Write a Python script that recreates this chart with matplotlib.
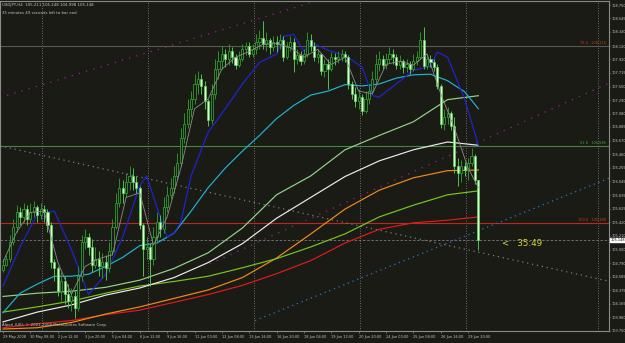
import matplotlib
matplotlib.use("Agg")
import matplotlib.pyplot as plt
from matplotlib import font_manager

# ---- USDJPY H4 bars ----
first_open = 104.69
closes = [104.77, 104.86, 105.12, 105.34, 105.57, 105.50, 105.62, 105.47, 105.57, 105.65,
          105.53, 105.62, 105.57, 105.37, 104.81, 104.71, 104.36, 104.51, 104.31, 104.21,
          104.28, 104.10, 104.59, 105.12, 105.19, 105.04, 104.77, 104.86, 104.74, 104.81,
          104.71, 104.97, 105.34, 105.72, 105.95, 105.87, 106.03, 106.13, 106.03, 105.95,
          105.37, 105.01, 105.04, 104.86, 105.19, 105.42, 105.31, 105.65, 105.83, 105.95,
          106.13, 106.33, 106.71, 106.93, 107.16, 107.31, 107.54, 107.62, 107.51, 107.28,
          106.98, 107.39, 107.77, 107.89, 108.00, 107.92, 108.04, 107.95, 107.83, 107.92,
          108.07, 108.12, 108.00, 108.07, 108.19, 108.25, 108.15, 108.22, 108.10, 108.19,
          108.15, 108.22, 107.96, 108.10, 108.19, 107.92, 107.98, 107.89, 108.00, 108.22,
          108.12, 107.95, 108.00, 107.74, 107.84, 107.77, 107.95, 107.92, 107.96, 108.00,
          107.95, 107.54, 107.39, 107.28, 107.34, 107.13, 107.31, 107.43, 107.62, 107.84,
          107.92, 107.83, 107.92, 108.00, 107.95, 107.83, 107.89, 107.80, 107.84, 107.77,
          107.89, 107.95, 108.22, 107.81, 107.92, 107.87, 107.80, 107.51, 106.93, 107.04,
          107.09, 106.89, 106.28, 106.18, 106.28, 106.22, 106.33, 106.43, 106.06, 105.15]
highs = [104.86, 104.92, 105.22, 105.47, 105.68, 105.65, 105.72, 105.68, 105.71, 105.75,
         105.69, 105.72, 105.68, 105.62, 105.42, 104.86, 104.74, 104.66, 104.59, 104.47,
         104.41, 104.36, 104.74, 105.22, 105.31, 105.25, 105.16, 105.04, 104.97, 104.95,
         104.92, 105.12, 105.47, 105.87, 106.10, 106.07, 106.18, 106.28, 106.25, 106.13,
         105.98, 105.41, 105.19, 105.10, 105.34, 105.57, 105.53, 105.80, 105.98, 106.10,
         106.28, 106.48, 106.86, 107.09, 107.31, 107.43, 107.69, 107.74, 107.69, 107.59,
         107.31, 107.54, 107.92, 108.04, 108.12, 108.07, 108.15, 108.10, 108.00, 108.04,
         108.16, 108.19, 108.18, 108.16, 108.30, 108.37, 108.50, 108.34, 108.25, 108.28,
         108.27, 108.31, 108.28, 108.19, 108.28, 108.25, 108.07, 108.04, 108.07, 108.34,
         108.30, 108.18, 108.07, 108.00, 107.92, 107.92, 108.03, 108.01, 108.04, 108.07,
         108.04, 107.98, 107.59, 107.50, 107.46, 107.39, 107.43, 107.54, 107.74, 108.00,
         108.04, 107.98, 108.01, 108.10, 108.07, 108.00, 107.98, 107.92, 107.92, 107.89,
         108.00, 108.04, 108.34, 108.42, 108.00, 107.98, 107.92, 107.84, 107.54, 107.16,
         107.19, 107.13, 107.04, 106.40, 106.37, 106.34, 106.40, 106.56, 106.47, 106.06]
lows = [104.66, 104.74, 104.81, 105.07, 105.27, 105.37, 105.42, 105.37, 105.41, 105.50,
        105.42, 105.47, 105.42, 105.27, 104.71, 104.51, 104.28, 104.21, 104.16, 104.10,
        104.06, 103.95, 104.06, 104.51, 105.01, 104.92, 104.66, 104.71, 104.59, 104.56,
        104.54, 104.65, 104.92, 105.31, 105.65, 105.72, 105.80, 105.92, 105.92, 105.86,
        105.31, 104.59, 104.86, 104.44, 104.77, 105.12, 105.19, 105.25, 105.57, 105.77,
        105.87, 106.07, 106.28, 106.63, 106.86, 107.04, 107.24, 107.39, 107.39, 107.16,
        106.89, 106.93, 107.31, 107.62, 107.77, 107.80, 107.83, 107.86, 107.77, 107.80,
        107.89, 107.98, 107.95, 107.95, 108.00, 108.07, 108.07, 108.04, 108.00, 108.04,
        108.03, 108.07, 107.89, 107.92, 108.04, 107.72, 107.84, 107.83, 107.84, 107.95,
        108.04, 107.89, 107.86, 107.68, 107.65, 107.46, 107.74, 107.83, 107.86, 107.89,
        107.87, 107.46, 107.31, 107.19, 107.16, 107.07, 107.10, 107.24, 107.39, 107.56,
        107.74, 107.77, 107.77, 107.86, 107.84, 107.77, 107.77, 107.71, 107.72, 107.69,
        107.74, 107.83, 107.92, 107.77, 107.77, 107.80, 107.74, 107.46, 106.86, 106.83,
        106.93, 106.83, 106.18, 105.98, 106.03, 106.13, 106.07, 106.28, 106.01, 105.00]

# ---- indicator lines (bar index -> price) ----
slow_idx = [0, 10, 20, 30, 40, 50, 60, 70, 80, 90, 100, 110, 120, 130, 139]
ma_palegreen = [104.28, 104.33, 104.36, 104.42, 104.53, 104.71, 104.95, 105.33, 105.84, 106.13,
                106.53, 106.75, 106.96, 107.30, 107.36]
ma_white = [103.89, 104.04, 104.15, 104.30, 104.41, 104.57, 104.80, 105.09, 105.48, 105.80,
            106.12, 106.36, 106.53, 106.65, 106.60]
ma_lime = [104.04, 104.12, 104.21, 104.33, 104.44, 104.51, 104.59, 104.72, 104.86, 105.04,
           105.24, 105.50, 105.68, 105.84, 105.90]
ma_orange = [103.78, 103.80, 103.88, 104.01, 104.12, 104.25, 104.38, 104.57, 104.87, 105.24,
             105.62, 105.91, 106.10, 106.21, 106.22]
ma_red = [103.80, 103.86, 103.91, 104.00, 104.07, 104.19, 104.31, 104.45, 104.63, 104.83,
          105.10, 105.31, 105.41, 105.45, 105.50]

cyan_idx = [0, 5, 10, 15, 20, 25, 30, 35, 40, 45, 50, 55, 60, 65, 70, 75, 80, 85, 90, 95,
            100, 105, 110, 115, 120, 125, 130, 135, 139]
ma_cyan = [104.03, 104.33, 104.47, 104.59, 104.59, 104.62, 104.74, 104.88, 105.06, 105.10,
           105.25, 105.59, 105.95, 106.25, 106.51, 106.75, 107.01, 107.21, 107.37, 107.43,
           107.53, 107.51, 107.54, 107.63, 107.68, 107.69, 107.59, 107.42, 107.16]

blue_idx = [0, 5, 10, 15, 20, 25, 30, 35, 40, 42, 45, 48, 50, 52, 55, 60, 65, 70, 75, 80,
            82, 85, 88, 90, 95, 100, 105, 108, 110, 115, 120, 125, 127, 130, 135, 139]
ma_blue = [104.44, 105.04, 105.54, 105.59, 105.00, 104.31, 104.62, 105.19, 105.98, 106.13,
           105.65, 105.19, 105.25, 105.42, 106.13, 106.80, 107.16, 107.54, 107.87, 108.00,
           108.27, 108.30, 108.04, 108.18, 108.06, 107.98, 107.80, 107.36, 107.34, 107.54,
           107.75, 107.81, 108.03, 107.95, 107.31, 106.60]

grey_idx = list(range(0, 137, 4)) + [139]
ma_grey = [104.81, 105.27, 105.57, 105.59, 104.81, 104.31, 104.74, 104.86, 104.92, 105.80,
           105.87, 105.07, 105.50, 106.25, 107.16, 107.31, 107.77, 107.95, 108.04, 108.15,
           108.16, 108.10, 107.95, 108.07, 107.84, 107.95, 107.43, 107.39, 107.84, 107.89,
           107.83, 108.00, 107.39, 106.86, 106.25, 105.95]

# trend lines: (bar, price) end points
trend_purple_hi = ([-0.9, 92.7], [107.33, 108.83])
trend_purple_lo = ([60.5, 177.5], [104.78, 107.56])
trend_grey = ([-0.9, 177.5], [106.59, 104.51])
trend_blue = ([73.7, 177.5], [103.91, 106.10])

fibo_levels = [108.116, 106.586, 105.405]
fibo_texts = ["76.4   108.116", "61.8   106.586", "100.0   105.405"]
fibo_colors = ["#5a5a50", "#3d8a3d", "#b82a1e"]
fibo_text_colors = ["#c0401e", "#3fa03f", "#c0401e"]
bid = 105.148

week_sep = [11.5, 42.5, 73.5, 104.5, 135.5]
time_ticks = [0, 8, 16, 24, 32, 40, 48, 56, 64, 72, 80, 88, 96, 104, 112, 120, 128, 136]
time_labels = ["29 May 2008", "30 May 08:00", "2 Jun 12:00", "3 Jun 20:00", "5 Jun 04:00",
               "6 Jun 12:00", "9 Jun 16:00", "11 Jun 00:00", "12 Jun 08:00", "13 Jun 16:00",
               "16 Jun 20:00", "18 Jun 04:00", "19 Jun 12:00", "20 Jun 20:00", "24 Jun 00:00",
               "25 Jun 08:00", "26 Jun 16:00", "29 Jun 20:00"]
price_ticks = [108.750, 108.545, 108.340, 108.120, 107.920, 107.715, 107.500, 107.290,
               107.080, 106.885, 106.670, 106.460, 106.255, 106.045, 105.835, 105.625,
               105.420, 105.210, 105.000, 104.790, 104.585, 104.375, 104.165, 103.960,
               103.750]

BG = "#1b1b16"
TXT = "#c4c4c4"
AXC = "#8a8a8a"

# narrow face so the tiny terminal labels fit like the original
installed = {f.name for f in font_manager.fontManager.ttflist}
if "Liberation Sans Narrow" in installed:
    FAM, FS = "Liberation Sans Narrow", 3.0
else:
    FAM, FS = "DejaVu Sans", 2.5

fig = plt.figure(figsize=(6.25, 3.43), dpi=100, facecolor=BG)
ax = fig.add_axes([0.0, 12 / 343, 609 / 625, 330 / 343], facecolor=BG)
ax.set_xlim(-0.88, 177.2)
ax.set_ylim(103.815, 108.813)

# separators, levels
for s in week_sep:
    ax.axvline(s, color="#8a8a8a", lw=0.6, ls=(0, (1, 2)), zorder=1)
ax.axvline(174.0, color="#8a8a8a", lw=0.6, ls=(0, (1, 2)), zorder=1)
for lvl, col in zip(fibo_levels, fibo_colors):
    ax.axhline(lvl, color=col, lw=0.8, zorder=1)
for lvl, t, col in zip(fibo_levels, fibo_texts, fibo_text_colors):
    ax.text(176.3, lvl + 0.02, t, color=col, ha="right", va="bottom", zorder=5,
            fontfamily=FAM, fontsize=FS)
ax.axhline(bid, color="#7a7a80", lw=0.6, ls=(0, (3, 2)), zorder=1)

# dotted trend lines
ax.plot(*trend_purple_hi, color="#a01ea0", lw=0.9, ls=(0, (1, 5)), zorder=2)
ax.plot(*trend_purple_lo, color="#a01ea0", lw=0.9, ls=(0, (1, 5)), zorder=2)
ax.plot(*trend_grey, color="#7a7a7a", lw=0.9, ls=(0, (1, 3)), zorder=2)
ax.plot(*trend_blue, color="#2a78c8", lw=0.9, ls=(0, (1, 3)), zorder=2)

# moving averages
ax.plot(slow_idx, ma_red, color="#e01c1c", lw=0.85, zorder=3)
ax.plot(slow_idx, ma_orange, color="#ee8c1a", lw=0.85, zorder=3)
ax.plot(slow_idx, ma_lime, color="#76c81e", lw=0.85, zorder=3)
ax.plot(slow_idx, ma_white, color="#ececec", lw=0.85, zorder=3)
ax.plot(slow_idx, ma_palegreen, color="#92d68a", lw=0.85, zorder=3)
ax.plot(cyan_idx, ma_cyan, color="#1fb4d2", lw=0.85, zorder=3)
ax.plot(blue_idx, ma_blue, color="#1f24d8", lw=0.85, zorder=3)

# candles
opens = [first_open] + closes[:-1]
w = 0.62
for i, (o, h, l, c) in enumerate(zip(opens, highs, lows, closes)):
    bear = c < o
    wick = "#4ec24e" if bear else "#2f8f2f"
    ax.vlines(i, min(l, o, c), max(h, o, c), color=wick, lw=0.7, zorder=4)
    lo, hi = min(o, c), max(o, c)
    if bear:
        ax.bar(i, max(hi - lo, 0.01), bottom=lo, width=w, color="#dcffd2",
               edgecolor="#5fd05f", linewidth=0.5, zorder=5)
    else:
        ax.bar(i, max(hi - lo, 0.01), bottom=lo, width=w, color=BG,
               edgecolor="#2f9a2f", linewidth=0.6, zorder=5)

ax.plot(grey_idx, ma_grey, color="#8c8c8c", lw=0.6, zorder=6)

# bar timer
ax.text(146, bid - 0.06, "<   35:49", color="#d8d838", fontsize=6.2, ha="left",
        va="center", zorder=7)

# axes styling
for side in ["left", "top", "bottom", "right"]:
    ax.spines[side].set_color(AXC)
    ax.spines[side].set_linewidth(0.8)
ax.yaxis.tick_right()
ax.set_yticks(price_ticks)
ax.set_yticklabels([f"{p:.3f}" for p in price_ticks], fontfamily=FAM)
ax.tick_params(axis="y", colors=AXC, labelcolor=TXT, labelsize=FS,
               length=1.0, width=0.5, pad=0.6)
ax.set_xticks(time_ticks)
ax.set_xticklabels(time_labels, ha="left", fontfamily=FAM)
ax.tick_params(axis="x", colors=AXC, labelcolor=TXT, labelsize=FS,
               length=1.5, width=0.5, pad=1.5)

# current price marker on the axis
ax.text(1.003, bid, f"{bid:.3f}", transform=ax.get_yaxis_transform(),
        fontfamily=FAM, fontsize=FS, color="black", ha="left", va="center", zorder=8,
        bbox=dict(boxstyle="square,pad=0.1", fc="white", ec="white"))

# header and footer texts
ax.text(0.004, 0.994, "USDJPY,H4  105.211 105.248 104.998 105.148", transform=ax.transAxes,
        color=TXT, ha="left", va="top", fontfamily=FAM, fontsize=FS + 0.3)
ax.text(0.004, 0.971, "35 minutes 49 seconds left to bar end", transform=ax.transAxes,
        color=TXT, ha="left", va="top", fontfamily=FAM, fontsize=FS + 0.3)
ax.text(0.004, 0.012, "Alpari (UK), \u00a9 2001-2008 MetaQuotes Software Corp.",
        transform=ax.transAxes, color=TXT, ha="left", va="bottom",
        fontfamily=FAM, fontsize=FS + 0.3)

fig.savefig("out.png", dpi=100, facecolor=BG)
